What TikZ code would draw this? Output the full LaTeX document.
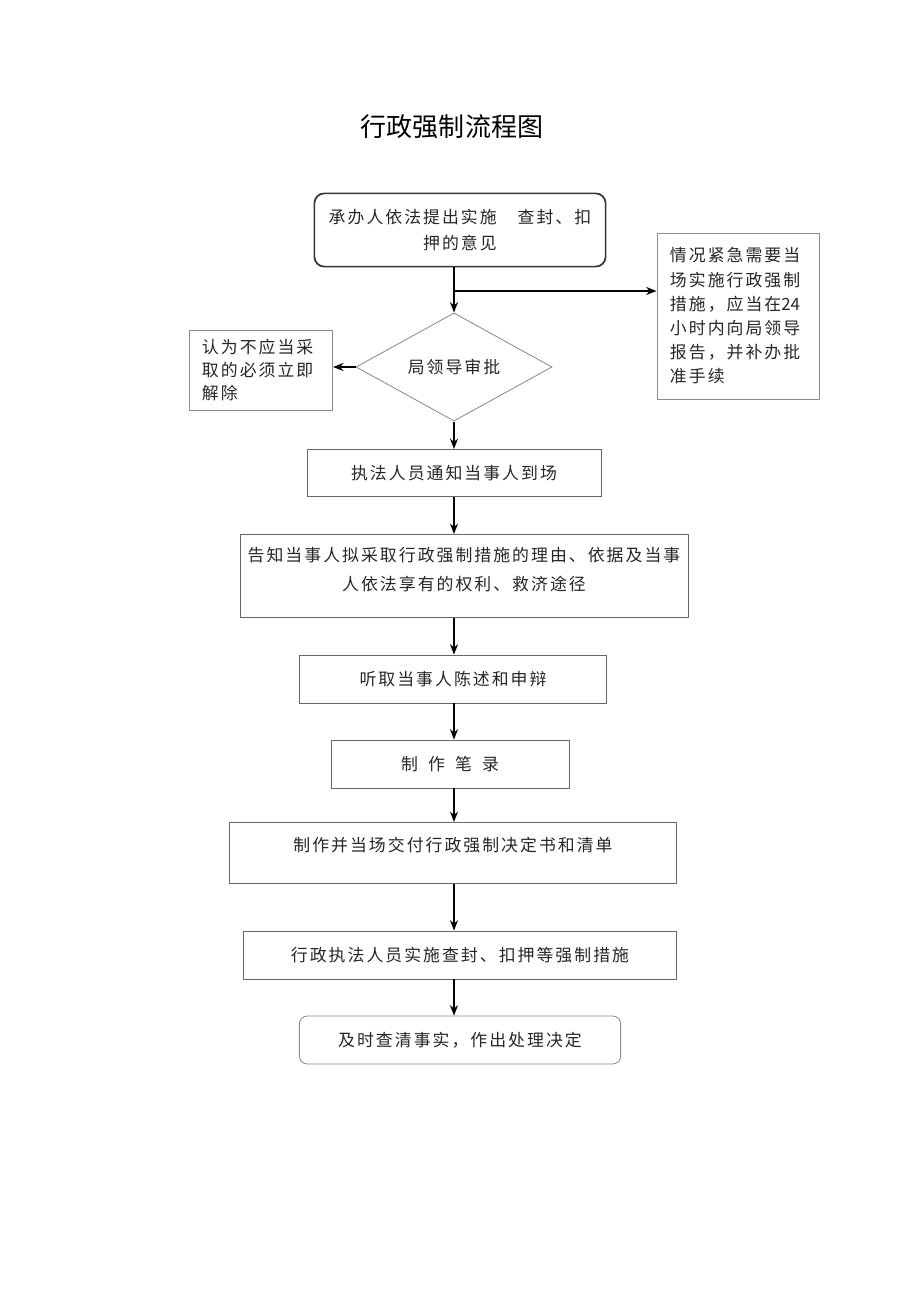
\documentclass[tikz,border=0pt]{standalone}
\usepackage{fontspec}
\setmainfont{Noto Sans CJK SC}
\newfontfamily\bodyfont[LetterSpace=12]{Noto Sans CJK SC}
\newfontfamily\plainfont{Noto Sans CJK SC}
\usetikzlibrary{shapes.geometric,arrows.meta}

\begin{document}
\begin{tikzpicture}[
  x=0.025cm, y=-0.025cm,
  every node/.style={align=center, inner sep=0pt, text=black!85, font=\bodyfont\fontsize{12}{17}\selectfont},
  box/.style={rectangle, draw=black!60, line width=0.6pt, minimum height=1.2cm},
  note/.style={rectangle, draw=black!45, line width=0.6pt, align=left},
  line/.style={-{Stealth[length=2.6mm,width=2mm]}, line width=1.2pt, draw=black}
]
\useasboundingbox (0,0) rectangle (920,1302);

\node[font=\fontsize{18.5}{22}\selectfont, text=black] (title) at (452,127) {行政强制流程图};

\node[box, rounded corners=0.25cm, draw=black!80, line width=1.2pt, minimum width=7.28cm, minimum height=1.83cm,
      font=\bodyfont\fontsize{12}{18.4}\selectfont] (propose) at (460,230)
  {承办人依法提出实施　查封、扣\\押的意见};

\node[note, minimum width=4.05cm, minimum height=4.15cm, text width=3.4cm,
      font=\bodyfont\fontsize{12}{17.2}\selectfont] (urgent) at (738,316)
  {情况紧急需要当\\场实施行政强制\\措施，应当在{\plainfont 24}\\小时内向局领导\\报告，并补办批\\准手续};

\node[diamond, draw=black!45, line width=0.6pt, minimum width=4.9cm, minimum height=2.63cm] (approve) at (454,367) {局领导审批};

\node[note, minimum width=3.58cm, minimum height=2cm, text width=2.95cm,
      font=\bodyfont\fontsize{12}{16.6}\selectfont] (dismiss) at (261,370)
  {认为不应当采\\取的必须立即\\解除};

\node[box, minimum width=7.35cm, minimum height=1.18cm] (notify) at (454,473) {执法人员通知当事人到场};

\node[box, minimum width=11.2cm, minimum height=2.08cm, text depth=0.37cm,
      font=\bodyfont\fontsize{12}{20.5}\selectfont] (inform) at (464,576)
  {告知当事人拟采取行政强制措施的理由、依据及当事\\人依法享有的权利、救济途径};

\node[box, minimum width=7.68cm] (hear) at (453,679) {听取当事人陈述和申辩};

\node[box, minimum width=5.95cm] (record) at (450,764) {制\hspace{0.6em}作\hspace{0.6em}笔\hspace{0.6em}录};

\node[box, minimum width=11.18cm, minimum height=1.53cm, text depth=0.42cm] (decide) at (453,853) {制作并当场交付行政强制决定书和清单};

\node[box, minimum width=10.83cm] (seal) at (460,955) {行政执法人员实施查封、扣押等强制措施};

\node[box, rounded corners=0.2cm, draw=black!45, minimum width=8.03cm] (verify) at (460,1040) {及时查清事实，作出处理决定};

% Arrows
\coordinate (col) at (454,0);
\coordinate (fork) at (454,291);
\draw [line] (propose.south -| col) -- (approve.north);
\draw [line] (fork) -- (fork -| urgent.west);
\draw [line] (approve.west) -- (approve.west -| dismiss.east);
\draw [line] (approve.south) -- (notify.north);
\draw [line] (notify.south) -- (inform.north -| col);
\draw [line] (inform.south -| col) -- (hear.north -| col);
\draw [line] (hear.south -| col) -- (record.north -| col);
\draw [line] (record.south -| col) -- (decide.north -| col);
\draw [line] (decide.south -| col) -- (seal.north -| col);
\draw [line] (seal.south -| col) -- (verify.north -| col);

\end{tikzpicture}
\end{document}
